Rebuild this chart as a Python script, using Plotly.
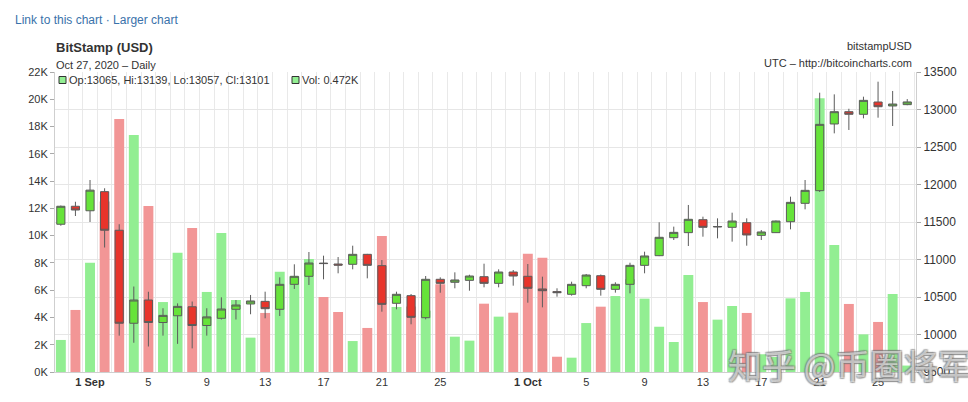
import plotly.graph_objects as go
import pandas as pd

# ---------------- data ----------------
dates = pd.date_range("2020-08-30", "2020-10-27", freq="D").strftime("%Y-%m-%d").tolist()

opens = [11470, 11710, 11650, 11905, 11390, 10150, 10460, 10160, 10250, 10370,
         10120, 10216, 10336, 10407, 10442, 10336, 10669, 10776, 10952, 10940,
         10936, 11069, 10918, 10416, 10518, 10224, 10736, 10696, 10722, 10771,
         10682, 10833, 10776, 10607, 10572, 10536, 10651, 10784, 10602, 10669,
         10922, 11051, 11291, 11358, 11531, 11433, 11429, 11491, 11322, 11358,
         11504, 11749, 11918, 12807, 12971, 12936, 13100, 13047, 13065]
highs = [11720, 11770, 12060, 11950, 11470, 10640, 10570, 10350, 10415, 10440,
         10350, 10496, 10460, 10527, 10571, 10762, 10936, 11100, 11051, 11033,
         11184, 11075, 10993, 10571, 10540, 10780, 10762, 10829, 10797, 10944,
         10869, 10860, 10940, 10771, 10616, 10704, 10807, 10800, 10696, 10957,
         11104, 11496, 11438, 11727, 11571, 11549, 11624, 11549, 11393, 11520,
         11838, 12060, 13224, 13202, 13010, 13171, 13371, 13247, 13139]
lows = [11450, 11580, 11500, 11160, 9985, 9890, 9840, 9985, 9875, 9815,
        9985, 10200, 10200, 10270, 10216, 10247, 10607, 10660, 10736, 10816,
        10869, 10749, 10304, 10336, 10136, 10202, 10557, 10616, 10584, 10629,
        10629, 10651, 10424, 10362, 10504, 10518, 10616, 10518, 10558, 10549,
        10816, 11045, 11260, 11180, 11304, 11282, 11238, 11184, 11260, 11355,
        11402, 11669, 11900, 12682, 12727, 12882, 12891, 12780, 13057]
closes = [11710, 11660, 11925, 11390, 10150, 10460, 10160, 10255, 10375, 10120,
          10235, 10340, 10393, 10447, 10344, 10669, 10776, 10953, 10946, 10925,
          11069, 10922, 10402, 10536, 10229, 10736, 10682, 10727, 10780, 10682,
          10833, 10780, 10616, 10584, 10558, 10669, 10793, 10602, 10669, 10922,
          11047, 11296, 11362, 11536, 11429, 11440, 11513, 11327, 11367, 11513,
          11762, 11922, 12802, 12971, 12936, 13122, 13037, 13073, 13101]
volumes = [2350, 4550, 8020, 12500, 18550, 17380, 12170, 5130, 8750, 10560,
           5870, 10190, 5280, 2520, 4330, 7360, 7000, 8290, 5500, 4400,
           2270, 3230, 9970, 4770, 4800, 4500, 6430, 2590, 2300, 5010,
           4060, 4350, 8680, 8380, 1120, 1050, 3590, 4790, 5570, 6800,
           5380, 3320, 2200, 7110, 5130, 3840, 4840, 4330, 1300, 1100,
           5400, 5870, 20070, 9310, 4990, 2760, 3670, 5720, 472]

tick_dates = ["2020-09-01", "2020-09-05", "2020-09-09", "2020-09-13", "2020-09-17",
              "2020-09-21", "2020-09-25", "2020-10-01", "2020-10-05", "2020-10-09",
              "2020-10-13", "2020-10-17", "2020-10-21", "2020-10-25"]
tick_labels = ["<b>1 Sep</b>", "5", "9", "13", "17", "21", "25", "<b>1 Oct</b>",
               "5", "9", "13", "17", "21", "25"]
vol_ticks = list(range(0, 22001, 2000))
vol_labels = [f"{v // 1000}K" for v in vol_ticks]
price_ticks = list(range(9500, 13501, 500))

# ---------------- style ----------------
GREEN = "#66E33A"
RED = "#E8342B"
VGREEN = "#92EE92"
VRED = "#F29696"
FONT = "Liberation Sans, Arial, sans-serif"

W, H = 968, 402
L, R, T, B = 55, 52, 72, 30
PW, PH = W - L - R, H - T - B


def px(x):
    return (x - L) / PW


def py(y):
    return (H - B - y) / PH


vol_colors = [VGREEN if c >= o else VRED for o, c in zip(opens, closes)]

fig = go.Figure()
fig.add_trace(go.Bar(
    x=dates, y=volumes, marker=dict(color=vol_colors, line=dict(width=0)),
    yaxis="y", hoverinfo="skip", showlegend=False))
fig.add_trace(go.Candlestick(
    x=dates, open=opens, high=highs, low=lows, close=closes, yaxis="y2",
    increasing=dict(fillcolor=GREEN, line=dict(color="#5c5c5c", width=1)),
    decreasing=dict(fillcolor=RED, line=dict(color="#5c5c5c", width=1)),
    whiskerwidth=0, showlegend=False))

fig.update_layout(
    width=W, height=H,
    margin=dict(l=L, r=R, t=T, b=B),
    paper_bgcolor="white", plot_bgcolor="white",
    font=dict(family=FONT, size=11, color="#333"),
    bargap=0.32, boxgap=0.2,
    showlegend=False,
    xaxis=dict(
        type="date",
        range=["2020-08-29 14:24", "2020-10-27 14:24"],
        tickvals=tick_dates, ticktext=tick_labels,
        showgrid=False, zeroline=False,
        showline=True, linecolor="#cfcfcf", linewidth=1,
        ticks="", tickfont=dict(size=11, color="#333"),
        minor=dict(tick0="2020-08-29 12:00", dtick=86400000, showgrid=True,
                   gridcolor="#e9e9e9", gridwidth=1, ticks=""),
        rangeslider=dict(visible=False),
        fixedrange=True,
    ),
    yaxis=dict(
        range=[0, 22000], tickvals=vol_ticks, ticktext=vol_labels,
        showgrid=False, zeroline=False,
        showline=True, linecolor="#cfcfcf", linewidth=1,
        ticks="outside", ticklen=4, tickcolor="#aaaaaa",
        tickfont=dict(size=11, color="#333"),
    ),
    yaxis2=dict(
        overlaying="y", side="right", range=[9500, 13500],
        tickvals=price_ticks, ticktext=[str(p) for p in price_ticks],
        showgrid=True, gridcolor="#e6e6e6", zeroline=False,
        showline=True, linecolor="#cfcfcf", linewidth=1,
        ticks="outside", ticklen=4, tickcolor="#aaaaaa",
        tickfont=dict(size=12, color="#333"),
    ),
)

ann = []


def text(x, y, s, size=11, color="#333", anchor="left", bold=False):
    ann.append(dict(x=px(x), y=py(y), xref="paper", yref="paper", text=s,
                    showarrow=False, xanchor=anchor, yanchor="middle",
                    font=dict(family=FONT, size=size, color=color,
                              weight="bold" if bold else "normal")))


text(13, 20, "Link to this chart · Larger chart", size=12, color="#3a72aa")
text(54, 47, "BitStamp (USD)", size=13, color="#333", bold=True)
text(54, 65, "Oct 27, 2020 – Daily", size=11)
text(914, 46, "bitstampUSD", size=11, anchor="right")
text(914, 63, "UTC – http://bitcoincharts.com", size=11, anchor="right")

legend_ohlc = f"Op:{opens[-1]}, Hi:{highs[-1]}, Lo:{lows[-1]}, Cl:{closes[-1]}"
legend_vol = f"Vol: {volumes[-1] / 1000:.3f}K"
text(67, 80, legend_ohlc, size=11)
text(300, 80, legend_vol, size=11)

ann.append(dict(x=px(850), y=py(364), xref="paper", yref="paper",
                text="知乎 @币圈将军", showarrow=False, xanchor="center",
                yanchor="middle",
                font=dict(family="Noto Sans CJK SC", size=34,
                          color="rgba(255,255,255,0.55)",
                          shadow="1px 1px 1px #777, -1px -1px 1px #777, 1px -1px 1px #777, -1px 1px 1px #777")))
fig.update_layout(annotations=ann)

shapes = []
for x0 in (59, 292):
    shapes.append(dict(type="rect", xref="paper", yref="paper",
                       x0=px(x0), x1=px(x0 + 7), y0=py(83.5), y1=py(76.5),
                       fillcolor=VGREEN, line=dict(color="#333", width=1)))
fig.update_layout(shapes=shapes)

fig.write_html("out.html", config={"displayModeBar": False},
               post_script="document.body.style.margin='0';document.body.style.overflow='hidden';")
